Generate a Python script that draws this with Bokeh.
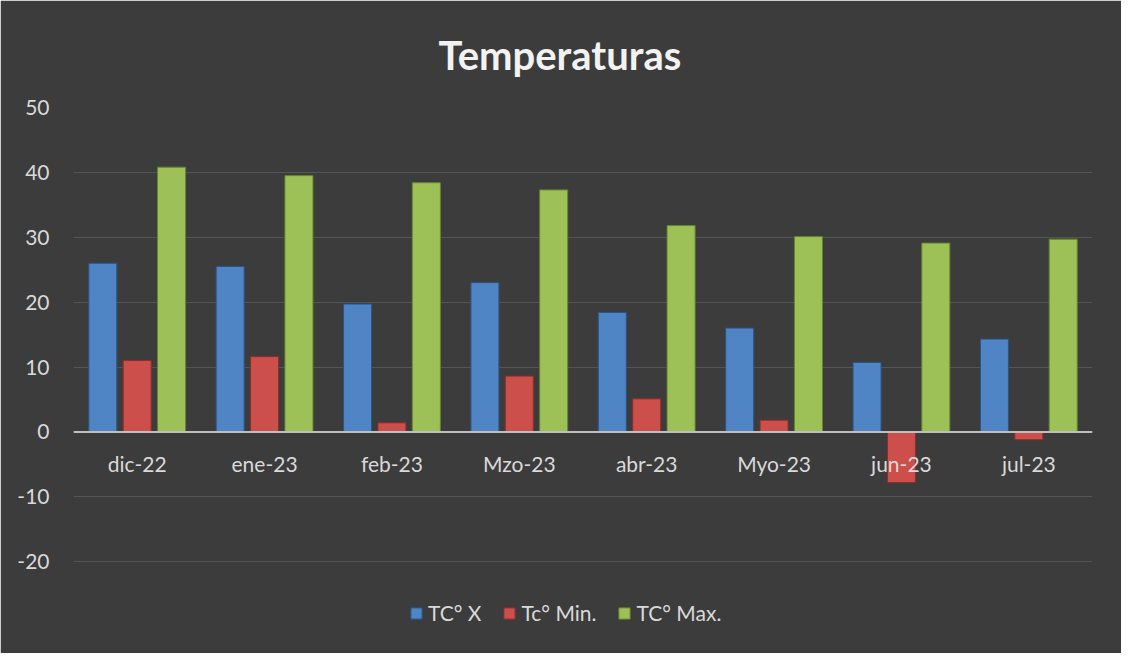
from bokeh.plotting import figure
from bokeh.models import (FactorRange, Range1d, FixedTicker, Legend, LegendItem,
                          ColumnDataSource, Span)
from bokeh.transform import dodge
from bokeh.core.properties import value
from bokeh.embed import file_html
from bokeh.resources import INLINE

# ---- data ----
categories = ["dic-22", "ene-23", "feb-23", "Mzo-23", "abr-23", "Myo-23", "jun-23", "jul-23"]
tc_x = [26.0, 25.5, 19.7, 23.0, 18.4, 16.0, 10.7, 14.3]
tc_min = [11.0, 11.6, 1.4, 8.6, 5.1, 1.8, -7.8, -1.2]
tc_max = [40.8, 39.5, 38.4, 37.3, 31.8, 30.1, 29.1, 29.7]
series_names = ["TC° X", "Tc° Min.", "TC° Max."]
y_ticks = [-20, -10, 0, 10, 20, 30, 40, 50]
y_tick_labels = ["-20", "-10", "0", "10", "20", "30", "40", "50"]
title_text = "Temperaturas"

FONT = "Lato"
TXT = "#d9d9d9"
BG = "#3c3c3c"

src = ColumnDataSource(dict(cat=categories, x=tc_x, mn=tc_min, mx=tc_max))

p = figure(x_range=FactorRange(*categories, range_padding=0),
           y_range=Range1d(-32, 50),
           width=1121, height=650,
           frame_width=1019, frame_height=532,
           min_border_left=73, min_border_right=29, min_border_top=104, min_border_bottom=14,
           output_backend="svg", toolbar_location=None)

p.background_fill_color = BG
p.border_fill_color = BG
# outline drawn in the background colour hides the seam between frame and border
p.outline_line_color = BG
p.outline_line_width = 3
p.outline_line_alpha = 1

# title
p.title.text = title_text
p.title.align = "left"
p.title.offset = 365
p.title.standoff = 57
p.title.text_font = FONT
p.title.text_font_size = "40px"
p.title.text_font_style = "bold"
p.title.text_color = "#f2f2f2"

# axes
p.xaxis.visible = False
p.xgrid.visible = False
p.yaxis.ticker = FixedTicker(ticks=y_ticks)
p.yaxis.major_label_overrides = {t: s for t, s in zip(y_ticks, y_tick_labels)}
p.yaxis.axis_line_color = None
p.yaxis.major_tick_line_color = None
p.yaxis.minor_tick_line_color = None
p.yaxis.major_label_standoff = 18
p.yaxis.major_label_text_font = FONT
p.yaxis.major_label_text_font_size = "21px"
p.yaxis.major_label_text_color = TXT
p.ygrid.ticker = FixedTicker(ticks=y_ticks)
p.ygrid.grid_line_color = "#555555"
p.ygrid.grid_line_width = 1

colors = ["#4f85c5", "#cc4f4c", "#9dc157"]
lines = ["#2c5385", "#8a2e2c", "#66862f"]
fields = ["x", "mn", "mx"]
offsets = [-0.27, 0.0, 0.27]
renderers = []
for f, off, c, lc in zip(fields, offsets, colors, lines):
    r = p.vbar(x=dodge("cat", off, range=p.x_range), top=f, bottom=0, width=0.22,
               source=src, fill_color=c, line_color=lc, line_width=1)
    renderers.append(r)

# zero line
p.add_layout(Span(location=0, dimension="width", line_color="#bfbfbf", line_width=2))

# category labels under the zero line
p.text(x="cat", y=0, text="cat", source=src, y_offset=32,
       text_align="center", text_baseline="middle",
       text_font=value(FONT), text_font_size="21px", text_color=TXT)

legend = Legend(items=[LegendItem(label=n, renderers=[r]) for n, r in zip(series_names, renderers)],
                orientation="horizontal", location=(336, 14),
                padding=0, margin=0, spacing=21, label_standoff=5,
                glyph_width=14, glyph_height=14,
                label_text_font=FONT, label_text_font_size="21px", label_text_color=TXT,
                background_fill_alpha=0, border_line_alpha=0)
p.add_layout(legend, "center")

open("out.html", "w").write(file_html(p, INLINE))
